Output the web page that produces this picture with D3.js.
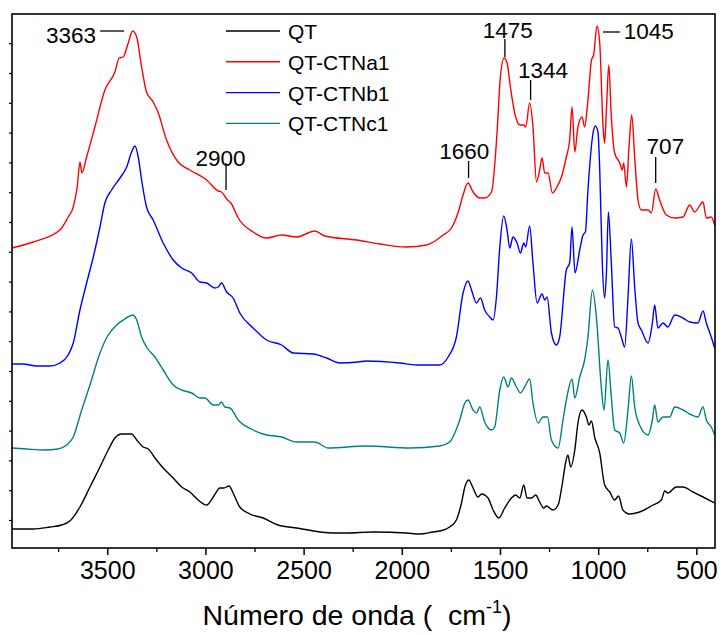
<!DOCTYPE html>
<html><head><meta charset="utf-8">
<script src="https://cdn.jsdelivr.net/npm/d3@7"></script>
<style>
html,body{margin:0;padding:0;background:#fff;}
svg{display:block;}
</style></head>
<body>
<svg id="chart" width="724" height="635"></svg>
<script>
// ---- Data (wavenumber cm^-1, intensity a.u. incl. vertical offset) ----
const xTicksMajor = [3500, 3000, 2500, 2000, 1500, 1000, 500];
const seriesNames = ["QT", "QT-CTNa1", "QT-CTNb1", "QT-CTNc1"];
const seriesColors = ["#000000", "#ff0000", "#0000ff", "#008080"];

const qt = [[3985,1.9],[3877,1.9],[3792,2.1],[3732,2.3],[3690,2.7],[3639,4.1],[3588,6.1],[3537,8.1],[3495,9.8],[3461,11.0],[3427,11.4],[3376,11.4],[3350,10.8],[3317,10.1],[3291,9.9],[3257,9.0],[3215,8.0],[3164,7.0],[3121,6.1],[3079,5.6],[3037,4.8],[2994,4.3],[2960,5.1],[2926,6.0],[2906,6.0],[2879,6.2],[2859,5.5],[2825,4.1],[2774,3.4],[2706,3.0],[2630,2.3],[2536,2.0],[2350,1.5],[2281,1.5],[2146,1.6],[1976,1.5],[1908,1.4],[1841,1.6],[1807,1.7],[1756,2.1],[1722,2.8],[1696,4.5],[1679,6.1],[1659,6.8],[1637,6.0],[1612,5.1],[1594,5.4],[1561,5.0],[1535,3.8],[1506,3.0],[1476,4.0],[1442,5.0],[1420,5.3],[1399,5.0],[1379,6.3],[1362,5.0],[1340,5.0],[1318,5.3],[1298,4.6],[1277,4.0],[1264,4.2],[1230,3.8],[1204,4.3],[1182,6.5],[1165,8.6],[1154,9.3],[1140,8.1],[1119,9.8],[1103,12.5],[1082,13.8],[1060,13.1],[1047,12.3],[1034,12.7],[1018,11.1],[992,9.5],[967,6.3],[941,5.6],[916,4.8],[896,5.2],[874,3.8],[840,3.4],[789,3.6],[721,4.3],[678,4.8],[661,5.7],[645,5.5],[602,6.1],[568,6.1],[517,5.6],[466,5.1],[407,4.5]];

const ctna1 = [[3985,30.0],[3877,30.6],[3741,31.8],[3699,33.1],[3673,34.1],[3653,36.1],[3639,38.6],[3629,37.5],[3605,39.1],[3563,42.1],[3512,45.8],[3461,47.6],[3439,49.0],[3419,49.1],[3393,50.5],[3371,51.7],[3350,51.1],[3325,48.1],[3300,45.6],[3266,44.6],[3240,43.5],[3198,40.8],[3139,38.6],[3079,37.8],[2994,36.8],[2935,35.7],[2918,35.6],[2892,34.9],[2867,34.4],[2833,33.0],[2757,31.6],[2689,31.0],[2612,31.3],[2536,31.1],[2443,31.7],[2392,31.2],[2231,30.8],[2112,30.4],[1976,30.1],[1874,30.3],[1823,30.8],[1790,31.3],[1747,32.0],[1714,33.5],[1688,35.3],[1663,36.5],[1637,35.6],[1603,35.0],[1578,35.0],[1543,35.6],[1515,41.5],[1498,47.1],[1479,49.0],[1464,48.5],[1447,46.1],[1425,43.5],[1399,42.3],[1379,42.3],[1369,42.1],[1349,44.5],[1332,42.1],[1314,36.6],[1298,37.8],[1286,39.0],[1272,37.5],[1255,37.5],[1233,35.5],[1213,36.0],[1187,37.1],[1162,39.1],[1145,40.8],[1133,44.1],[1119,39.6],[1103,42.1],[1082,43.1],[1069,42.1],[1052,44.8],[1034,48.8],[1023,49.3],[1006,52.2],[992,50.5],[975,42.1],[967,40.5],[958,43.8],[946,48.3],[933,43.1],[916,39.5],[890,38.5],[877,37.8],[870,38.5],[856,36.1],[843,40.1],[829,43.3],[814,39.1],[797,34.8],[780,33.8],[746,33.8],[729,33.5],[707,35.9],[687,34.8],[653,33.3],[610,33.0],[568,33.1],[534,34.3],[509,33.6],[466,34.6],[449,33.0],[424,33.1],[407,32.3]];

const ctnb1 = [[3985,18.4],[3928,18.4],[3859,18.2],[3792,18.2],[3741,18.5],[3699,19.3],[3673,20.5],[3639,23.8],[3605,26.5],[3571,29.1],[3537,32.1],[3512,34.5],[3478,35.8],[3435,37.0],[3401,38.1],[3376,39.6],[3359,40.2],[3342,39.1],[3325,36.8],[3300,34.1],[3266,32.8],[3215,30.5],[3164,28.8],[3121,28.0],[3070,27.5],[3028,26.6],[2994,26.5],[2952,26.0],[2935,26.1],[2918,26.5],[2892,25.6],[2859,25.0],[2825,23.5],[2757,22.0],[2689,20.8],[2612,20.3],[2553,19.5],[2452,19.4],[2383,19.0],[2316,18.5],[2222,18.6],[2180,18.7],[2010,18.5],[1925,18.3],[1807,18.3],[1764,19.1],[1722,21.1],[1688,25.5],[1663,26.7],[1645,25.8],[1620,24.5],[1599,25.0],[1578,23.8],[1552,23.1],[1535,22.8],[1518,25.1],[1501,30.1],[1481,33.2],[1464,31.8],[1450,30.0],[1434,31.1],[1413,30.5],[1396,29.5],[1379,30.5],[1369,30.1],[1349,32.2],[1332,28.5],[1311,24.5],[1286,25.4],[1272,24.8],[1260,25.1],[1238,21.5],[1213,20.3],[1196,21.1],[1162,27.8],[1145,28.5],[1133,32.1],[1118,27.5],[1094,29.8],[1077,31.3],[1065,31.6],[1052,35.8],[1026,41.5],[1014,42.2],[1001,41.6],[992,37.8],[979,28.5],[967,25.0],[958,27.5],[948,33.6],[933,28.5],[916,22.1],[899,22.0],[882,21.1],[865,20.1],[848,25.1],[831,30.9],[814,26.1],[797,22.5],[780,21.8],[746,20.5],[724,22.5],[712,24.3],[696,22.0],[670,22.5],[645,22.1],[610,23.3],[568,23.0],[534,22.6],[492,22.5],[466,23.7],[449,22.5],[424,21.1],[407,20.0]];

const ctnc1 = [[3985,10.0],[3910,9.9],[3826,9.8],[3750,9.9],[3707,10.3],[3673,11.1],[3630,13.8],[3588,16.3],[3537,19.5],[3495,21.3],[3452,22.3],[3410,22.9],[3371,23.3],[3350,22.8],[3325,21.1],[3300,20.1],[3257,19.1],[3215,17.8],[3164,16.3],[3121,15.8],[3070,15.5],[3028,15.0],[3003,15.0],[2960,14.3],[2935,14.3],[2918,14.6],[2901,14.1],[2875,14.0],[2833,12.8],[2757,11.8],[2689,11.3],[2612,11.1],[2536,10.6],[2443,10.6],[2375,10.0],[2180,10.2],[1959,10.0],[1807,10.2],[1756,10.6],[1730,11.5],[1705,12.8],[1679,14.5],[1663,14.8],[1637,13.8],[1620,13.5],[1603,14.1],[1578,12.6],[1543,11.8],[1527,12.1],[1501,15.8],[1481,17.1],[1459,16.1],[1442,17.0],[1416,16.1],[1396,15.5],[1374,16.1],[1349,16.9],[1332,14.5],[1306,12.5],[1281,13.1],[1258,13.1],[1238,10.8],[1204,10.0],[1179,12.8],[1162,14.8],[1133,16.9],[1119,15.0],[1094,17.1],[1069,18.8],[1052,21.1],[1029,25.8],[1009,23.1],[984,16.1],[970,13.8],[950,18.8],[933,15.1],[916,11.8],[890,11.5],[870,10.5],[848,13.8],[831,17.2],[814,14.1],[789,12.3],[746,11.3],[724,12.8],[712,14.3],[696,12.6],[670,13.1],[636,13.1],[610,14.1],[568,13.8],[534,13.4],[492,13.1],[466,14.1],[449,12.8],[424,12.1],[407,11.3]];

const seriesData = [qt, ctna1, ctnb1, ctnc1];

// peak annotations: label, wavenumber of marked band
const annLabels = ["3363", "2900", "1660", "1475", "1344", "1045", "707"];
const annWave   = [3363, 2900, 1660, 1475, 1344, 1006, 707];

// ---- Chart ----
const svg = d3.select("#chart");
const L = 12, R = 715, T = 14, B = 548;
const x = d3.scaleLinear().domain([3985, 405]).range([L, R]);
const y = d3.scaleLinear().domain([0, 53.4]).range([B, T]);

const font = "'Liberation Sans', Arial, sans-serif";
const narrow = "'Liberation Sans Narrow', 'Arial Narrow', 'Liberation Sans', sans-serif";

// curves
const line = d3.line().x(d => x(d[0])).y(d => y(d[1])).curve(d3.curveMonotoneX);
[2,3,0,1].forEach(i => {
  svg.append("path").datum(seriesData[i])
    .attr("d", line).attr("fill", "none")
    .attr("stroke", seriesColors[i]).attr("stroke-width", 1.4)
    .attr("stroke-linejoin", "round");
});

// x axis
const xMinor = d3.range(3750, 400, -500);
const xAxis = d3.axisBottom(x).tickValues(xTicksMajor).tickSize(7).tickPadding(6).tickFormat(d3.format("d"));
const gx = svg.append("g").attr("transform", `translate(0,${B})`).call(xAxis);
gx.select(".domain").remove();
gx.selectAll(".tick line").attr("stroke-width", 1.5);
gx.selectAll("text").attr("font-family", narrow).attr("font-size", 25).attr("fill", "#000");
svg.append("g").attr("transform", `translate(0,${B})`)
  .call(d3.axisBottom(x).tickValues(xMinor).tickSize(4).tickFormat(""))
  .call(g => g.select(".domain").remove())
  .selectAll(".tick line").attr("stroke-width", 1.3);

// y axis ticks (no labels)
const yTickVals = d3.range(2.8, 53.3, 2.98);
svg.append("g").attr("transform", `translate(${L},0)`)
  .call(d3.axisLeft(y).tickValues(yTickVals).tickSize(3).tickFormat(""))
  .call(g => g.select(".domain").remove())
  .selectAll(".tick line").attr("stroke-width", 1.2);

// frame
svg.append("rect").attr("x", L).attr("y", T).attr("width", R - L).attr("height", B - T)
  .attr("fill", "none").attr("stroke", "#000").attr("stroke-width", 1.6);

// x title
const title = svg.append("text").attr("x", 357).attr("y", 625).attr("text-anchor", "middle")
  .attr("font-family", narrow).attr("font-size", 28.5).attr("fill", "#000");
title.append("tspan").text("Número de onda (\u00a0\u00a0cm");
title.append("tspan").attr("dy", -12).attr("font-size", 18).text("-1");
title.append("tspan").attr("dy", 12).text(")");

// legend
const lg = svg.append("g");
seriesNames.forEach((n, i) => {
  const ly = 31 + i * 30.8;
  lg.append("line").attr("x1", 226).attr("x2", 280).attr("y1", ly).attr("y2", ly)
    .attr("stroke", seriesColors[i]).attr("stroke-width", 1.4);
  lg.append("text").attr("x", 288).attr("y", ly + 8).attr("font-family", font)
    .attr("font-size", 21).attr("fill", "#000").text(n);
});

// annotations
const ann = svg.append("g").attr("font-family", font).attr("font-size", 22.5).attr("fill", "#000");
function vline(px, v1, v2) {
  ann.append("line").attr("x1", px).attr("x2", px).attr("y1", y(v1)).attr("y2", y(v2))
    .attr("stroke", "#000").attr("stroke-width", 1.3);
}
function hline(px1, px2, v) {
  ann.append("line").attr("x1", px1).attr("x2", px2).attr("y1", y(v)).attr("y2", y(v))
    .attr("stroke", "#000").attr("stroke-width", 1.3);
}
function label(txt, px, v, anchor) {
  ann.append("text").attr("x", px).attr("y", y(v)).attr("text-anchor", anchor).text(txt);
}
// 3363
hline(x(annWave[0]) - 34, x(annWave[0]) - 10, 51.7);
label(annLabels[0], x(annWave[0]) - 38, 50.5, "end");
// 2900
vline(x(annWave[1]) + 1, 38.5, 35.8);
label(annLabels[1], x(annWave[1]) - 4.5, 38.2, "middle");
// 1660
vline(x(annWave[2]), 38.7, 37.0);
label(annLabels[2], x(annWave[2]) - 4.3, 38.9, "middle");
// 1475
vline(x(annWave[3]), 50.9, 49.1);
label(annLabels[3], x(annWave[3]) + 2.8, 51.0, "middle");
// 1344
vline(x(annWave[4]), 46.8, 44.8);
label(annLabels[4], x(annWave[4]) + 12.4, 47.0, "middle");
// 1045
hline(x(annWave[5]) + 6, x(annWave[5]) + 22.7, 51.6);
label(annLabels[5], x(annWave[5]) + 26.7, 50.9, "start");
// 707
vline(x(annWave[6]), 39.1, 36.5);
label(annLabels[6], x(annWave[6]) + 9.7, 39.4, "middle");
</script>
</body></html>
